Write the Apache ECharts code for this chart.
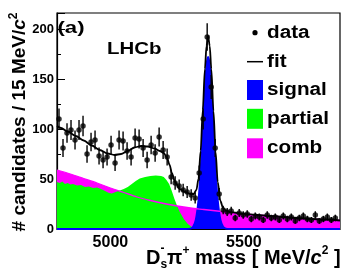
<!DOCTYPE html>
<html><head><meta charset="utf-8">
<script src="https://cdn.jsdelivr.net/npm/echarts@6/dist/echarts.min.js"></script>
<style>html,body{margin:0;padding:0;background:#fff;}#c{width:358px;height:273px;}</style>
</head><body><div id="c"></div>
<script>
// Bin centres (15 MeV bins) in MeV/c^2
const binCenters = [4807.5,4822.5,4837.5,4852.5,4867.5,4882.5,4897.5,4912.5,4927.5,4942.5,
4957.5,4972.5,4987.5,5002.5,5017.5,5032.5,5047.5,5062.5,5077.5,5092.5,
5107.5,5122.5,5137.5,5152.5,5167.5,5182.5,5197.5,5212.5,5227.5,5242.5,
5257.5,5272.5,5287.5,5302.5,5317.5,5332.5,5347.5,5362.5,5377.5,5392.5,
5407.5,5422.5,5437.5,5452.5,5467.5,5482.5,5497.5,5512.5,5527.5,5542.5,
5557.5,5572.5,5587.5,5602.5,5617.5,5632.5,5647.5,5662.5,5677.5,5692.5,
5707.5,5722.5,5737.5,5752.5,5767.5,5782.5,5797.5,5812.5,5827.5,5842.5];
// Candidates per bin
const counts = [110,81,96,99,89,99,103,75,87,89,
73,69,72,84,66,89,88,78,72,91,
90,81,69,84,76,92,79,72,52,46,
43,39,37,34,31,56,110,192,142,81,
35,19,17,18,11,16,14,15,10,13,
12,9,14,11,12,9,13,10,12,8,
11,13,10,9,14,8,10,12,9,11];
// Fit curves: [mass, value]
const fitCurve = [[4800,103],[4815,101],[4840,97.5],[4870,93],[4900,88.5],[4930,83.5],[4960,79],[4990,75.5],[5015,74],[5040,75],[5065,78],[5090,81.5],[5115,83],[5140,82.5],[5165,80.5],[5185,78],[5200,76],[5212,71],[5222,64],[5230,56],[5242,47],[5260,40],[5280,37],[5300,35],[5312,35],[5322,39],[5330,50],[5338,78],[5346,119],[5354,160],[5360,183],[5366,193],[5372,183],[5378,160],[5386,118],[5394,77],[5402,47],[5412,28],[5422,21],[5432,18.5],[5450,16.8],[5500,15.2],[5550,14],[5600,13],[5650,12],[5700,11],[5750,10],[5800,9.5],[5860,8.5]];
const signalCurve = [[4800,0],[5280,0],[5300,0.4],[5310,2.2],[5320,9.2],[5330,28.6],[5338,58],[5346,99],[5354,141],[5360,164],[5366,172],[5372,164],[5378,141],[5386,99],[5394,58],[5402,28.6],[5412,9.2],[5422,2.2],[5432,0.4],[5450,0],[5860,0]];
const partialCurve = [[4800,47],[4810,46],[4820,47.5],[4830,45],[4840,46],[4850,44.5],[4860,45],[4875,43.5],[4890,44],[4905,42],[4920,42.5],[4935,41],[4950,41.5],[4965,40],[4980,38],[4995,36],[5005,35.5],[5020,37],[5035,38.5],[5050,40],[5065,42],[5080,45],[5095,48],[5110,50.5],[5130,52],[5150,53],[5170,53.5],[5190,53],[5200,52],[5210,49],[5220,45],[5230,38],[5240,30],[5250,23],[5260,17],[5275,10],[5290,5],[5305,2],[5320,0.5],[5330,0],[5860,0]];
const combCurve = [[4800,59],[4850,55],[4900,50.5],[4950,46],[5000,41],[5050,36.5],[5100,32],[5150,28.5],[5200,25.5],[5250,23],[5300,21],[5350,19.5],[5400,18],[5450,16.5],[5500,15],[5550,14],[5600,13],[5650,12],[5700,11],[5750,10],[5800,9.5],[5860,8.5]];
const xLabelValues = [5000, 5500];
const yLabelStep = 50;
const legendNames = ['data','fit','signal','partial','comb'];

const chart = echarts.init(document.getElementById('c'), null, {renderer:'canvas'});
const F = 'Liberation Sans, Arial, Helvetica, sans-serif';
const scatterData = binCenters.map((m,i)=>[m, counts[i]]);
const errData = binCenters.map((m,i)=>[m, counts[i]-Math.sqrt(counts[i]), counts[i]+Math.sqrt(counts[i])]);

const legendY = [32.7, 61.7, 90, 118.8, 148.3];
const option = {
  animation:false,
  backgroundColor:'#fff',
  grid:{left:57,right:18,top:13,bottom:44,show:true,borderColor:'#000',borderWidth:1.2,backgroundColor:'transparent'},
  xAxis:[{
    type:'value',min:4800,max:5860,interval:100,
    axisLine:{show:true,lineStyle:{color:'#000',width:1.2}},
    axisTick:{show:true,inside:true,length:4,lineStyle:{color:'#000',width:1}},
    axisLabel:{show:true,margin:6,color:'#000',fontFamily:F,fontWeight:'bold',fontSize:16,
      formatter:v=>xLabelValues.indexOf(v)>=0?String(v):'',showMaxLabel:false},
    splitLine:{show:false}
  },{
    type:'value',min:4800,max:5860,position:'bottom',gridIndex:0,
    axisLine:{show:false},
    axisTick:{show:true,inside:true,length:8,customValues:xLabelValues,lineStyle:{color:'#000',width:1}},
    axisLabel:{show:false},splitLine:{show:false}
  }],
  yAxis:{
    type:'value',min:0,max:216,interval:50,
    axisLine:{show:true,lineStyle:{color:'#000',width:1.2}},
    axisTick:{show:true,inside:true,length:8,lineStyle:{color:'#000',width:1}},
    minorTick:{show:true,splitNumber:2,length:4,lineStyle:{color:'#000',width:1}},
    axisLabel:{margin:3,color:'#000',fontFamily:F,fontWeight:'bold',fontSize:13,
      formatter:v=>(v%yLabelStep===0)?String(v):'',showMaxLabel:false},
    splitLine:{show:false},minorSplitLine:{show:false}
  },
  series:[
    {name:'comb',type:'line',data:combCurve,showSymbol:false,smooth:0.3,z:1,
      lineStyle:{width:0},areaStyle:{color:'#ff00ff',opacity:1}},
    {name:'partial',type:'line',data:partialCurve,showSymbol:false,z:2,
      lineStyle:{width:0},areaStyle:{color:'#00ff00',opacity:1}},
    {name:'signal',type:'line',data:signalCurve,showSymbol:false,smooth:0.3,z:3,
      lineStyle:{width:2,color:'#0000ff'},areaStyle:{color:'#0000ff',opacity:1}},
    {name:'combLine',type:'line',data:combCurve,showSymbol:false,smooth:0.3,z:4,
      lineStyle:{width:1.3,color:'#ff00ff'}},
    {name:'fit',type:'line',data:fitCurve,showSymbol:false,smooth:0.3,smoothMonotone:'x',z:5,
      lineStyle:{width:1.8,color:'#000'}},
    {name:'errors',type:'custom',z:6,data:errData,encode:{x:0,y:[1,2]},
      renderItem:(params,api)=>{
        const p1=api.coord([api.value(0),api.value(1)]);
        const p2=api.coord([api.value(0),api.value(2)]);
        return {type:'line',shape:{x1:p1[0],y1:p1[1],x2:p2[0],y2:p2[1]},style:{stroke:'#000',lineWidth:1.4}};
      }},
    {name:'data',type:'scatter',data:scatterData,symbol:'circle',symbolSize:5.5,z:7,
      itemStyle:{color:'#000'}}
  ],
  graphic:[
    {type:'text',x:20,y:122,rotation:Math.PI/2,z:100,style:{
      text:'{m|# candidates / 15 MeV/}{i|c}{sup|2}',align:'center',verticalAlign:'middle',fill:'#000',
      rich:{m:{fontFamily:F,fontWeight:'bold',fontSize:19,lineHeight:24,fill:'#000'},
            i:{fontFamily:F,fontWeight:'bold',fontStyle:'italic',fontSize:19,lineHeight:24,fill:'#000'},
            sup:{fontFamily:F,fontWeight:'bold',fontSize:12,verticalAlign:'top',fill:'#000'}}}},
    {type:'text',x:146,y:258,z:100,style:{
      text:'{m|D}{sub|s}{m|π}{sup|+}{m| mass [ MeV/}{i|c}{sup|2}{m| ]}',align:'left',verticalAlign:'middle',fill:'#000',
      rich:{m:{fontFamily:F,fontWeight:'bold',fontSize:20,lineHeight:26,fill:'#000'},
            i:{fontFamily:F,fontWeight:'bold',fontStyle:'italic',fontSize:20,lineHeight:26,fill:'#000'},
            sup:{fontFamily:F,fontWeight:'bold',fontSize:12,verticalAlign:'top',fill:'#000'},
            sub:{fontFamily:F,fontWeight:'bold',fontSize:12,verticalAlign:'bottom',fill:'#000'}}}},
    {type:'text',x:160.5,y:249,z:100,style:{text:'-',fontFamily:F,fontWeight:'bold',fontSize:12,fill:'#000',align:'left',verticalAlign:'middle'}},
    {type:'text',x:57.5,y:28,scaleX:1.3,z:100,style:{text:'(a)',fontFamily:F,fontWeight:'bold',fontSize:17,fill:'#000',align:'left',verticalAlign:'middle'}},
    {type:'text',x:107,y:49,scaleX:1.2,z:100,style:{text:'LHCb',fontFamily:F,fontWeight:'bold',fontSize:17,fill:'#000',align:'left',verticalAlign:'middle'}},
    {type:'circle',shape:{cx:255,cy:legendY[0],r:2.6},style:{fill:'#000'},z:100},
    {type:'line',shape:{x1:247,y1:legendY[1],x2:263,y2:legendY[1]},style:{stroke:'#000',lineWidth:1.5},z:100},
    {type:'rect',shape:{x:247,y:legendY[2]-10,width:16,height:20},style:{fill:'#0000ff'},z:100},
    {type:'rect',shape:{x:247,y:legendY[3]-10,width:16,height:20},style:{fill:'#00ff00'},z:100},
    {type:'rect',shape:{x:247,y:legendY[4]-10,width:16,height:20},style:{fill:'#ff00ff'},z:100}
  ].concat(legendNames.map((n,k)=>({type:'text',x:267,y:legendY[k],scaleX:1.15,z:100,
      style:{text:n,fontFamily:F,fontWeight:'bold',fontSize:18,fill:'#000',align:'left',verticalAlign:'middle'}})))
};
chart.setOption(option);
</script></body></html>
